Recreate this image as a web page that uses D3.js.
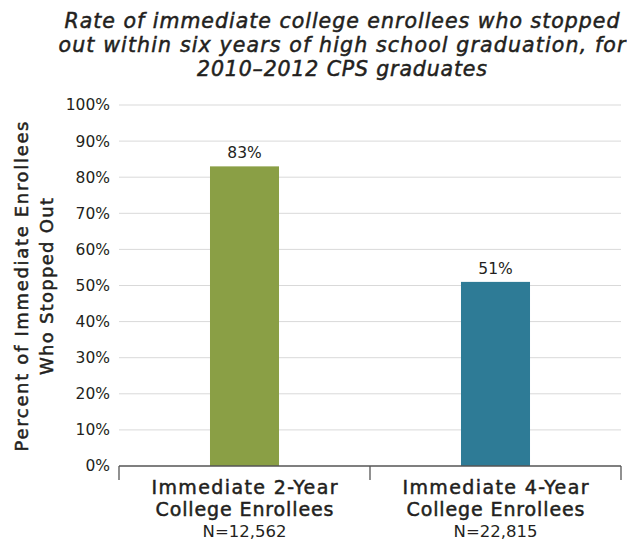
<!DOCTYPE html>
<html>
<head>
<meta charset="utf-8">
<script src="https://cdn.jsdelivr.net/npm/d3@7"></script>
<style>
  body { margin: 0; background: #fff; }
  text { font-family: "DejaVu Sans", sans-serif; fill: #231f20; }
  .medium { stroke: #231f20; stroke-width: 0.5px; }
</style>
</head>
<body>
<div id="chart"></div>
<script>
// Data
var categories = ["Immediate 2-Year College Enrollees", "Immediate 4-Year College Enrollees"];
var labelLines = [["Immediate 2-Year", "College Enrollees"], ["Immediate 4-Year", "College Enrollees"]];
var counts = ["N=12,562", "N=22,815"];
var values = [83, 51];
var colors = ["#8a9f45", "#2e7b96"];
var yTicks = [0, 10, 20, 30, 40, 50, 60, 70, 80, 90, 100];
var titleLines = [
  "Rate of immediate college enrollees who stopped",
  "out within six years of high school graduation, for",
  "2010\u20132012 CPS graduates"
];
var yTitleLines = ["Percent of Immediate Enrollees", "Who Stopped Out"];

var W = 627, H = 544;
var margin = {top: 105, right: 6, bottom: 78, left: 119},
    width = W - margin.left - margin.right,
    height = H - margin.top - margin.bottom;

var svg = d3.select("#chart").append("svg")
  .attr("width", W)
  .attr("height", H);

// stretch a line of text to a given width by letter spacing
function fitWidth(sel, w) {
  sel.each(function() {
    var n = this.textContent.length;
    var cur = this.getComputedTextLength();
    var ls = (w - cur) / (n - 1);
    d3.select(this).style("letter-spacing", ls + "px")
      .attr("dx", ls / 2);
  });
}

// Title
var titleWidths = [555, 567, 290];
svg.append("g").selectAll("text")
  .data(titleLines)
  .enter().append("text")
  .attr("class", "medium")
  .attr("x", 342)
  .attr("y", function(d, i) { return 28 + i * 24; })
  .attr("text-anchor", "middle")
  .style("font-size", "20.5px")
  .style("font-style", "italic")
  .text(function(d) { return d; })
  .each(function(d, i) { fitWidth(d3.select(this), titleWidths[i]); });

var g = svg.append("g")
  .attr("transform", "translate(" + margin.left + "," + margin.top + ")");

var x = d3.scaleBand()
  .domain(categories)
  .range([0, width])
  .paddingInner(0)
  .paddingOuter(0);

var y = d3.scaleLinear()
  .domain([0, 100])
  .range([height, 0]);

// Gridlines
g.append("g")
  .selectAll("line")
  .data(yTicks.filter(function(d) { return d > 0; }))
  .enter().append("line")
  .attr("x1", 0)
  .attr("x2", width)
  .attr("y1", function(d) { return y(d); })
  .attr("y2", function(d) { return y(d); })
  .attr("stroke", "#d9d9d9")
  .attr("stroke-width", 1);

// Y axis labels
var yAxis = g.append("g")
  .call(d3.axisLeft(y).tickValues(yTicks).tickSize(0).tickPadding(9)
    .tickFormat(function(d) { return d + "%"; }));
yAxis.select(".domain").remove();
yAxis.selectAll("text")
  .style("font-size", "15.5px")
  .style("font-family", "'DejaVu Sans', sans-serif")
  .attr("fill", "#231f20");

// Bars
var barW = x.bandwidth() * 0.275;
g.selectAll(".bar")
  .data(values)
  .enter().append("rect")
  .attr("class", "bar")
  .attr("x", function(d, i) { return x(categories[i]) + x.bandwidth() / 2 - barW / 2; })
  .attr("width", barW)
  .attr("y", function(d) { return y(d); })
  .attr("height", function(d) { return height - y(d); })
  .attr("fill", function(d, i) { return colors[i]; });

// Value labels
g.selectAll(".val")
  .data(values)
  .enter().append("text")
  .attr("class", "val")
  .attr("x", function(d, i) { return x(categories[i]) + x.bandwidth() / 2; })
  .attr("y", function(d) { return y(d) - 8; })
  .attr("text-anchor", "middle")
  .style("font-size", "15.5px")
  .text(function(d) { return d + "%"; });

// X axis baseline with tick marks
var xAxis = g.append("g")
  .attr("transform", "translate(0," + height + ")");
xAxis.append("line")
  .attr("x1", 0).attr("x2", width)
  .attr("y1", 0).attr("y2", 0)
  .attr("stroke", "#555").attr("stroke-width", 1.3);
xAxis.selectAll(".tk")
  .data([0].concat(categories.map(function(c) { return x(c) + x.bandwidth(); })))
  .enter().append("line")
  .attr("x1", function(d) { return d; })
  .attr("x2", function(d) { return d; })
  .attr("y1", 0).attr("y2", 14)
  .attr("stroke", "#555").attr("stroke-width", 1.3);

// Category labels
var catWidths = [186, 178];
categories.forEach(function(c, i) {
  var cx = x(c) + x.bandwidth() / 2;
  labelLines[i].forEach(function(line, j) {
    xAxis.append("text")
      .attr("class", "medium")
      .attr("x", cx)
      .attr("y", 28 + j * 22)
      .attr("text-anchor", "middle")
      .style("font-size", "19px")
      .text(line)
      .call(fitWidth, catWidths[j]);
  });
  xAxis.append("text")
    .attr("x", cx)
    .attr("y", 71)
    .attr("text-anchor", "middle")
    .style("font-size", "16.5px")
    .text(counts[i]);
});

// Y axis title
var yWidths = [330, 177];
yTitleLines.forEach(function(line, i) {
  svg.append("text")
    .attr("class", "medium")
    .attr("transform", "translate(" + (28 + i * 25) + "," + (margin.top + height / 2 + 1) + ") rotate(-90)")
    .attr("text-anchor", "middle")
    .style("font-size", "18px")
    .text(line)
    .call(fitWidth, yWidths[i]);
});
</script>
</body>
</html>
